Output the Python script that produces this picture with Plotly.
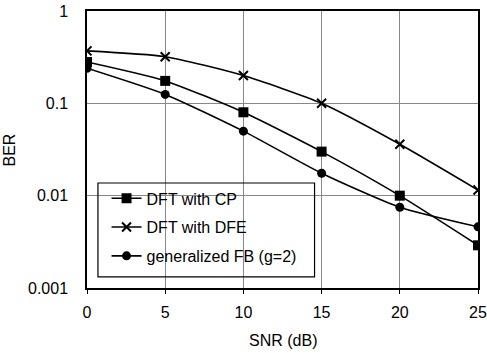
import plotly.graph_objects as go

snr = [0, 5, 10, 15, 20, 25]
ber_cp = [0.28, 0.175, 0.08, 0.03, 0.01, 0.0029]
ber_dfe = [0.37, 0.32, 0.2, 0.1, 0.036, 0.0115]
ber_fb = [0.24, 0.125, 0.05, 0.0175, 0.0075, 0.0046]
names = ["DFT with CP", "DFT with DFE", "generalized FB (g=2)"]
x_ticks = [0, 5, 10, 15, 20, 25]
y_ticks = [0.001, 0.01, 0.1, 1]
y_labels = ["0.001", "0.01", "0.1", "1"]

fig = go.Figure()
specs = [
    (ber_cp, dict(symbol="square", size=10, color="black")),
    (ber_dfe, dict(symbol="x-thin", size=9, color="black", line=dict(width=2, color="black"))),
    (ber_fb, dict(symbol="circle", size=9, color="black")),
]
for i, ((vals, mk), nm) in enumerate(zip(specs, names)):
    fig.add_trace(go.Scatter(
        x=snr, y=vals, name=nm, mode="lines+markers",
        line=dict(color="black", width=1.6, shape="spline", smoothing=0.6),
        marker=mk, legendgroup=str(i),
    ))

font = dict(family="Liberation Sans, Arial, sans-serif", size=16, color="black")
fig.update_layout(
    width=487, height=353,
    margin=dict(l=87, r=9, t=11, b=65, autoexpand=False),
    paper_bgcolor="white", plot_bgcolor="white",
    font=font,
    showlegend=True,
    legend=dict(x=0.05, y=0.385, xanchor="left", yanchor="top",
                bgcolor="rgba(0,0,0,0)", borderwidth=0,
                traceorder="grouped", tracegroupgap=5,
                font=font, itemwidth=30),
    xaxis=dict(range=[0, 25], tickvals=x_ticks, showgrid=True, gridcolor="#888888",
               gridwidth=1, showline=True, linecolor="black", linewidth=1.5, mirror=True,
               ticks="outside", ticklen=4, tickcolor="black", zeroline=False,
               automargin=False, ticklabelstandoff=5, ticklabeloverflow="allow"),
    yaxis=dict(type="log", range=[-3, 0], tickvals=y_ticks, ticktext=y_labels,
               showgrid=True, gridcolor="#888888", gridwidth=1,
               showline=True, linecolor="black", linewidth=1.5, mirror=True,
               ticks="", zeroline=False, automargin=False, ticklabelstandoff=14,
               ticklabeloverflow="allow"),
    shapes=[dict(type="rect", xref="paper", yref="paper", x0=0.028, x1=0.582,
                 y0=0.04, y1=0.379, line=dict(color="black", width=1.2),
                 fillcolor="rgba(0,0,0,0)", layer="above")],
    annotations=[
        dict(text="SNR (dB)", x=0.5, y=-0.15, xref="paper", yref="paper",
             xanchor="center", yanchor="top", showarrow=False, font=font),
        dict(text="BER", x=-0.197, y=0.5, xref="paper", yref="paper",
             xanchor="center", yanchor="middle", textangle=-90, showarrow=False, font=font),
    ],
)
fig.write_html("out.html", config={"displayModeBar": False},
               post_script="document.body.style.margin='0';document.body.style.overflow='hidden';")
